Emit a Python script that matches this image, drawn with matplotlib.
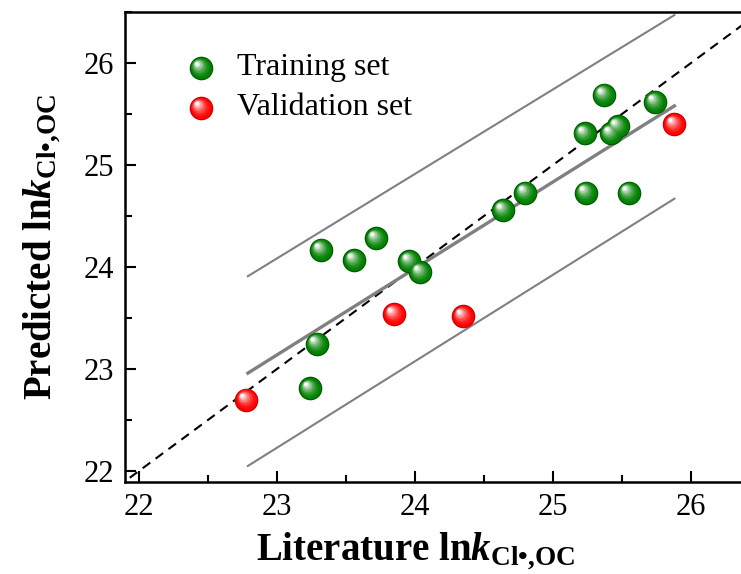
"""Parity plot of predicted vs literature ln k(Cl., OC) for training/validation sets."""

import numpy as np
import matplotlib
matplotlib.use("Agg")
import matplotlib.pyplot as plt
from matplotlib.colors import to_rgb
from matplotlib.transforms import offset_copy

plt.rcParams["font.family"] = ["Liberation Serif", "DejaVu Serif"]
plt.rcParams["mathtext.fontset"] = "custom"
plt.rcParams["mathtext.rm"] = "Liberation Serif"
plt.rcParams["mathtext.it"] = "Liberation Serif:italic"
plt.rcParams["mathtext.bf"] = "Liberation Serif:bold"
plt.rcParams["mathtext.bfit"] = "Liberation Serif:bold:italic"

# Data
train_lit = [23.32, 23.56, 23.72, 23.96, 24.04, 23.29, 23.24, 24.64,
             24.80, 25.23, 25.37, 25.42, 25.47, 25.74, 25.24, 25.55]
train_pred = [24.17, 24.07, 24.28, 24.06, 23.95, 23.25, 22.81, 24.56,
              24.73, 25.31, 25.69, 25.31, 25.38, 25.62, 24.73, 24.73]
val_lit = [22.78, 23.85, 24.35, 25.88]
val_pred = [22.70, 23.54, 23.52, 25.40]

# Linear fit and prediction band end points
fit_x = [22.79, 25.88]
fit_y = [22.96, 25.58]
upper_y = [23.91, 26.47]
lower_y = [22.05, 24.67]

diag = [21.0, 27.0]

xticks = [22, 23, 24, 25, 26]
yticks = [22, 23, 24, 25, 26]


def mix(c1, c2, w):
    a = np.array(to_rgb(c1))
    b = np.array(to_rgb(c2))
    return tuple(a * (1 - w) + b * w)


def draw_spheres(fig, ax, x, y, body, edge, transform, diam=17.0, zorder=4):
    """Fake shaded spheres from stacked, shrinking, lightening circles."""
    ax.scatter(x, y, s=diam ** 2, color=edge, linewidths=0,
               transform=transform, zorder=zorder, clip_on=False)
    n = 16
    for i, t in enumerate(np.linspace(0, 1, n)):
        d = diam * (0.9 - 0.78 * t)
        off = offset_copy(transform, fig=fig, x=-0.2 * diam * t,
                          y=0.2 * diam * t, units="points")
        color = mix(body, "white", t ** 1.7)
        ax.scatter(x, y, s=d ** 2, color=color, linewidths=0,
                   transform=off, zorder=zorder + 0.01 * (i + 1), clip_on=False)


fig = plt.figure(figsize=(7.41, 5.74), dpi=100)
ax = fig.add_axes([125 / 741, 92 / 574, 635 / 741, 470 / 574])

ax.plot(diag, diag, color="black", ls=(0, (4.5, 3.2)), lw=1.5, zorder=2)
ax.plot(fit_x, upper_y, color="#808080", lw=1.5, zorder=1)
ax.plot(fit_x, lower_y, color="#808080", lw=1.5, zorder=1)
ax.plot(fit_x, fit_y, color="#808080", lw=2.4, zorder=3)

draw_spheres(fig, ax, train_lit, train_pred, "#008000", "#005c00", ax.transData)
draw_spheres(fig, ax, val_lit, val_pred, "#ff0000", "#d00000", ax.transData)

# legend drawn by hand so the markers keep their shading
draw_spheres(fig, ax, [0.1197], [0.881], "#008000", "#005c00", ax.transAxes, zorder=6)
draw_spheres(fig, ax, [0.1197], [0.796], "#ff0000", "#d00000", ax.transAxes, zorder=6)
ax.text(0.1764, 0.881, "Training set", transform=ax.transAxes,
        fontsize=23, va="center", ha="left")
ax.text(0.1764, 0.796, "Validation set", transform=ax.transAxes,
        fontsize=23, va="center", ha="left")

ax.set_xlim(21.9, 26.5)
ax.set_ylim(21.893, 26.467)
ax.set_xticks(xticks)
ax.set_yticks(yticks)
ax.set_xticks(np.arange(22.5, 26.6, 1.0), minor=True)
ax.set_yticks(np.arange(22.5, 26.6, 1.0), minor=True)
ax.tick_params(which="both", direction="in", width=1.5, labelsize=22)
ax.tick_params(which="major", length=8, pad=8)
ax.tick_params(which="minor", length=5)
for side in ax.spines.values():
    side.set_linewidth(1.8)

ax.set_xlabel(r"Literature ln$\mathbfit{k}_{\mathbf{Cl•{,}OC}}$",
              fontsize=28, fontweight="bold")
ax.xaxis.set_label_coords((415 - 125) / 635, -0.104)
ax.set_ylabel(r"Predicted ln$\mathbfit{k}_{\mathbf{Cl•{,}OC}}$",
              fontsize=28, fontweight="bold")
ax.yaxis.set_label_coords(-0.098, 0.5)

fig.savefig("out.png", dpi=100)
